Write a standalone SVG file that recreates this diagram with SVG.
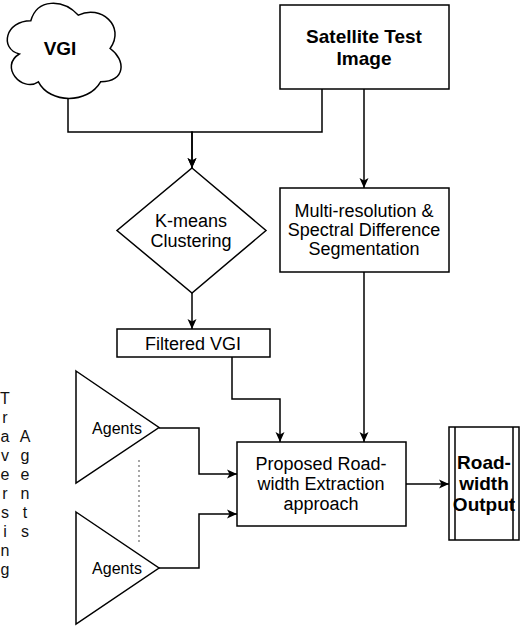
<svg xmlns="http://www.w3.org/2000/svg" width="520" height="626" viewBox="0 0 520 626">
<defs>
<style>
.s{fill:#fff;stroke:#000;stroke-width:1.5}
.t{font-family:"Liberation Sans",Arial,sans-serif;font-size:18px;fill:#000;text-anchor:middle}
.b{font-weight:bold;font-size:19px}
.a{font-size:16px}
.v{font-family:"Liberation Sans",Arial,sans-serif;font-size:16px;fill:#111;text-anchor:middle}
.c{fill:none;stroke:#000;stroke-width:1.5;marker-end:url(#ah)}
</style>
<marker id="ah" markerUnits="userSpaceOnUse" markerWidth="12" markerHeight="10" refX="11" refY="5" orient="auto">
<path d="M1,0.5 L11,5 L1,9.5 L3.5,5 Z" fill="#000"/>
</marker>
</defs>
<rect width="520" height="626" fill="#fff"/>
<g id="connectors">
<path class="c" d="M68,98 V132 H192 V168"/>
<path class="c" d="M322,89 V132 H192 V168"/>
<path class="c" d="M364,89 V188"/>
<path class="c" d="M192,293 V329"/>
<path class="c" d="M232,357 V399 H280 V442"/>
<path class="c" d="M364,272 V442"/>
<path class="c" d="M159,428 H199 V474 H237"/>
<path class="c" d="M159,568 H199 V514 H237"/>
<path class="c" d="M406,484 H449"/>
<line x1="139" y1="460" x2="139" y2="542" stroke="#777" stroke-width="1.3" stroke-dasharray="2,3"/>
</g>
<g id="vgi">
<path class="s" d="M30.8,20.8 C5.4,20.8 -1,48.5 19.3,54 C-1,66.3 21.9,92.9 38.4,81.8 C49.8,104 87.9,104 100.6,81.8 C126,81.8 126,59.6 110.1,48.5 C126,26.3 100.6,4.1 78.4,15.2 C62.5,-1.5 37.1,-1.5 30.8,20.8 Z"/>
<text class="t b" x="60" y="55">VGI</text>
</g>
<g id="satellite">
<rect class="s" x="280" y="5" width="169" height="84"/>
<text class="t b" x="364" y="43">Satellite Test</text>
<text class="t b" x="364" y="65">Image</text>
</g>
<g id="kmeans">
<path class="s" d="M192,168 L266,230.5 L192,293 L117,230.5 Z"/>
<text class="t" x="191" y="227">K-means</text>
<text class="t" x="191" y="247">Clustering</text>
</g>
<g id="multires">
<rect class="s" x="280" y="188" width="169" height="84"/>
<text class="t" x="364" y="217">Multi-resolution &amp;</text>
<text class="t" x="364" y="236">Spectral Difference</text>
<text class="t" x="364" y="255">Segmentation</text>
</g>
<g id="filtered">
<rect class="s" x="117" y="329" width="153" height="28"/>
<text class="t" x="193" y="350">Filtered VGI</text>
</g>
<g id="agents1">
<path class="s" d="M76,371 L159,427.5 L76,483 Z"/>
<text class="t a" x="117" y="434">Agents</text>
</g>
<g id="agents2">
<path class="s" d="M76,512 L159,568 L76,624 Z"/>
<text class="t a" x="117" y="574">Agents</text>
</g>
<g id="proposed">
<rect class="s" x="237" y="442" width="169" height="84"/>
<text class="t" x="321" y="470">Proposed Road-</text>
<text class="t" x="321" y="490">width Extraction</text>
<text class="t" x="321" y="510">approach</text>
</g>
<g id="output">
<rect class="s" x="449" y="427" width="70" height="113"/>
<line x1="455" y1="427" x2="455" y2="540" stroke="#000" stroke-width="1.5"/>
<line x1="513" y1="427" x2="513" y2="540" stroke="#000" stroke-width="1.5"/>
<text class="t b" x="484" y="469">Road-</text>
<text class="t b" x="484" y="490">width</text>
<text class="t b" x="484" y="511">Output</text>
</g>
<g id="traversing">
<text class="v" x="5" y="404">T</text>
<text class="v" x="5" y="423">r</text>
<text class="v" x="5" y="442">a</text>
<text class="v" x="5" y="461">v</text>
<text class="v" x="5" y="480">e</text>
<text class="v" x="5" y="499">r</text>
<text class="v" x="5" y="518">s</text>
<text class="v" x="5" y="537">i</text>
<text class="v" x="5" y="556">n</text>
<text class="v" x="5" y="575">g</text>
<text class="v" x="25" y="442">A</text>
<text class="v" x="25" y="461">g</text>
<text class="v" x="25" y="480">e</text>
<text class="v" x="25" y="499">n</text>
<text class="v" x="25" y="518">t</text>
<text class="v" x="25" y="537">s</text>
</g>
</svg>
